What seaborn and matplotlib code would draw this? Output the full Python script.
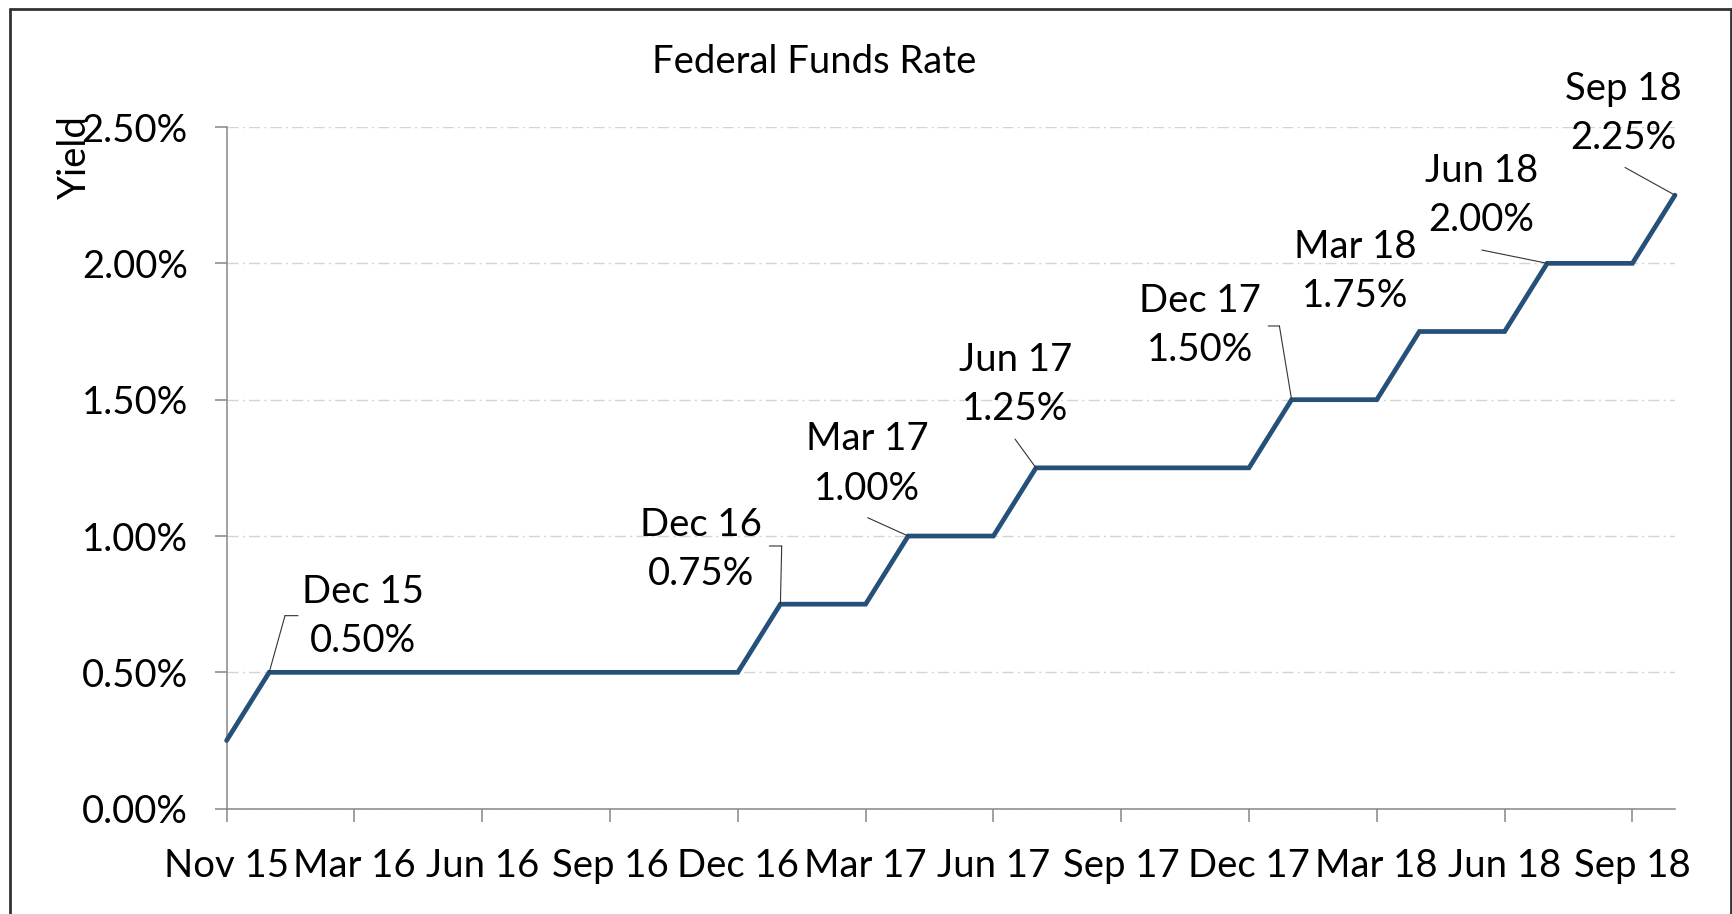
import matplotlib
matplotlib.use("Agg")
import matplotlib.pyplot as plt
from matplotlib.lines import Line2D
from matplotlib.transforms import offset_copy
import seaborn as sns
import pandas as pd

# monthly fed funds target (upper bound), Nov 15 .. Sep 18
months = ["Nov 15", "Dec 15", "Jan 16", "Feb 16", "Mar 16", "Apr 16", "May 16",
          "Jun 16", "Jul 16", "Aug 16", "Sep 16", "Oct 16", "Nov 16", "Dec 16",
          "Jan 17", "Feb 17", "Mar 17", "Apr 17", "May 17", "Jun 17", "Jul 17",
          "Aug 17", "Sep 17", "Oct 17", "Nov 17", "Dec 17", "Jan 18", "Feb 18",
          "Mar 18", "Apr 18", "May 18", "Jun 18", "Jul 18", "Aug 18", "Sep 18"]
rate = [0.25, 0.50, 0.50, 0.50, 0.50, 0.50, 0.50,
        0.50, 0.50, 0.50, 0.50, 0.50, 0.50, 0.75,
        0.75, 0.75, 1.00, 1.00, 1.00, 1.25, 1.25,
        1.25, 1.25, 1.25, 1.25, 1.50, 1.50, 1.50,
        1.75, 1.75, 1.75, 2.00, 2.00, 2.00, 2.25]

tick_labels = ["Nov 15", "Mar 16", "Jun 16", "Sep 16", "Dec 16", "Mar 17",
               "Jun 17", "Sep 17", "Dec 17", "Mar 18", "Jun 18", "Sep 18"]
y_ticks = [0.0, 0.5, 1.0, 1.5, 2.0, 2.5]
y_tick_labels = ["0.00%", "0.50%", "1.00%", "1.50%", "2.00%", "2.50%"]

hikes = ["Dec 15", "Dec 16", "Mar 17", "Jun 17", "Dec 17", "Mar 18", "Jun 18", "Sep 18"]

# label placement in pixels relative to the point: text centre, leader path
label_pos = {
    "Dec 15": ((94, 56), [(15.8, 56.7), (28.8, 56.7)]),
    "Dec 16": ((-79, 55), [(1.3, 58.2), (-11.1, 58.2)]),
    "Mar 17": ((-41, 72), [(-40.5, 18.3)]),
    "Jun 17": ((-20.5, 83), [(-21, 28.8)]),
    "Dec 17": ((-91.6, 74), [(-12.2, 73.7), (-23.4, 73.7)]),
    "Mar 18": ((-64.4, 60), []),
    "Jun 18": ((-66, 68), [(-65.3, 13.3)]),
    "Sep 18": ((-52, 81.5), [(-50, 27.7)]),
}

df = pd.DataFrame({"idx": range(len(months)), "month": months, "rate": rate})

W, H, DPI = 1733, 914, 100
FS = 27.5
sns.set_theme(style="white")
plt.rcParams["font.family"] = ["Lato", "DejaVu Sans"]

fig = plt.figure(figsize=(W / DPI, H / DPI), dpi=DPI)
ax = fig.add_axes([226.6 / W, 1 - 808.7 / H, (1675 - 226.6) / W, (808.7 - 127) / H])

sns.lineplot(data=df, x="idx", y="rate", ax=ax, color="#25507a", linewidth=3.4,
             clip_on=False, solid_joinstyle="miter", zorder=3)

ax.set_xlim(0, len(months) - 1)
ax.set_ylim(0, 2.5)
ax.set_xticks(range(0, len(months), 3))
ax.set_xticklabels(tick_labels)
ax.set_yticks(y_ticks)
ax.set_yticklabels(y_tick_labels)
ax.set_xlabel("")
ax.set_ylabel("")

ax.grid(axis="y", color="#d4d4d4", linewidth=1.0, linestyle=(0, (8, 3, 1.5, 3)))
ax.set_axisbelow(True)
for s in ["top", "right"]:
    ax.spines[s].set_visible(False)
for s in ["left", "bottom"]:
    ax.spines[s].set_color("#868686")
    ax.spines[s].set_linewidth(1.1)
ax.tick_params(axis="both", direction="out", length=9, width=1.1, color="#868686",
               labelsize=FS, labelcolor="black", pad=19)
ax.tick_params(axis="y", left=True)
ax.tick_params(axis="x", bottom=True)

# data labels with leader lines
for m in hikes:
    i = months.index(m)
    v = rate[i]
    (tx, ty), path = label_pos[m]
    ax.annotate(f"{m}\n{v:.2f}%", xy=(i, v), xytext=(tx, ty),
                textcoords="offset pixels", ha="center", va="center",
                fontsize=FS, linespacing=1.45, color="black")
    pts = [(0, 0)] + path
    for (x0, y0), (x1, y1) in zip(pts[:-1], pts[1:]):
        start = offset_copy(ax.transData, fig=fig, x=x0, y=y0, units="dots")
        ax.annotate("", xy=(i, v), xycoords=start, xytext=(x1 - x0, y1 - y0),
                    textcoords="offset pixels",
                    arrowprops=dict(arrowstyle="-", color="#333333", lw=0.8,
                                    shrinkA=0, shrinkB=0))

fig.text(814 / W, 1 - 73 / H, "Federal Funds Rate", ha="center", va="baseline",
         fontsize=FS, color="black")
fig.text(75 / W, 1 - 157.5 / H, "Yield", rotation=90, ha="center", va="center",
         fontsize=FS, color="black")

# outer chart frame
fx0, fx1, fy1 = 10 / W, 1730.7 / W, 1 - 9.3 / H
for xs, ys in [([fx0, fx0], [0, fy1]), ([fx1, fx1], [0, fy1]), ([fx0, fx1], [fy1, fy1])]:
    fig.add_artist(Line2D(xs, ys, color="#333333", linewidth=2, transform=fig.transFigure))

fig.savefig("out.png", dpi=DPI)
